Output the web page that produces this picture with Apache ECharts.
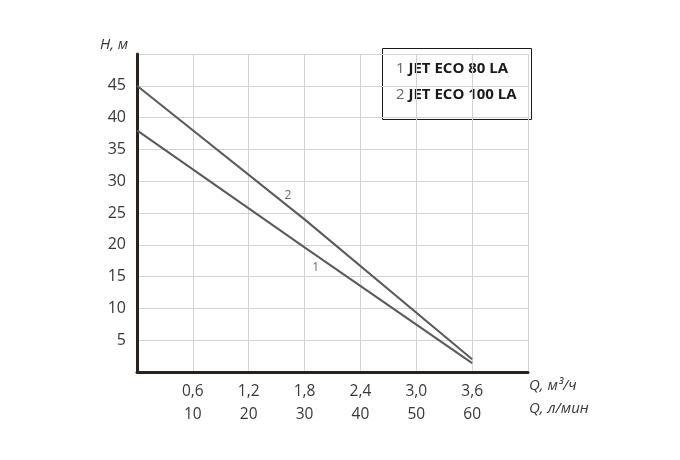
<!DOCTYPE html>
<html><head><meta charset="utf-8">
<script src="https://cdn.jsdelivr.net/npm/echarts@6/dist/echarts.min.js"></script>
<style>html,body{margin:0;padding:0;background:#fff}#c{width:680px;height:460px}</style>
</head><body><div id="c"></div>
<script>
const seriesNames = ['JET ECO 80 LA', 'JET ECO 100 LA'];
const curve1 = [[0, 38], [1.8, 19.6], [3.6, 1.4]];
const curve2 = [[0, 45], [1.8, 24], [3.6, 2.0]];
const curveLabelPos = [[1.92, 16.4], [1.62, 27.7]];
const qM3Ticks = ['0,6', '1,2', '1,8', '2,4', '3,0', '3,6'];
const qLminTicks = ['10', '20', '30', '40', '50', '60'];
const font = '"Open Sans", "Noto Sans", sans-serif';

const chart = echarts.init(document.getElementById('c'));
chart.setOption({
  animation: false,
  grid: { left: 137, right: 152, top: 54, bottom: 88 },
  xAxis: {
    type: 'value', min: 0, max: 4.2, interval: 0.6,
    axisLine: { show: true, onZero: false, lineStyle: { color: '#2a211c', width: 3 } },
    axisTick: { show: false },
    splitLine: { show: true, lineStyle: { color: '#d3d3d3', width: 1 } },
    axisLabel: {
      margin: 8, fontFamily: font, fontSize: 15.5, color: '#383838', lineHeight: 23,
      formatter: function (v) {
        const i = Math.round(v / 0.6) - 1;
        if (i < 0 || i >= qM3Ticks.length) return '';
        return qM3Ticks[i] + '\n' + qLminTicks[i];
      }
    }
  },
  yAxis: {
    type: 'value', min: 0, max: 50, interval: 5,
    axisLine: { show: true, lineStyle: { color: '#2a211c', width: 3 } },
    axisTick: { show: false },
    splitLine: { show: true, lineStyle: { color: '#d3d3d3', width: 1 } },
    axisLabel: {
      margin: 11, fontFamily: font, fontSize: 16, color: '#383838',
      formatter: function (v) { return (v === 0 || v === 50) ? '' : String(v); }
    }
  },
  series: [
    { name: seriesNames[0], type: 'line', data: curve1, symbol: 'none',
      lineStyle: { color: '#5a5a5a', width: 2 } },
    { name: seriesNames[1], type: 'line', data: curve2, symbol: 'none',
      lineStyle: { color: '#5a5a5a', width: 2 } },
    { type: 'scatter', symbolSize: 0, silent: true,
      data: curveLabelPos.map((p, i) => ({ value: p, name: String(i + 1) })),
      label: { show: true, position: 'inside', formatter: '{b}', fontFamily: font, fontSize: 12, color: '#444' } }
  ],
  graphic: [
    { type: 'text', left: 100, top: 37, style: { text: 'H, м', fontFamily: font, fontStyle: 'italic', fontSize: 15, fill: '#383838' } },
    { type: 'text', left: 529, top: 378, style: { text: 'Q, м³/ч', fontFamily: font, fontStyle: 'italic', fontSize: 15, fill: '#383838' } },
    { type: 'text', left: 529, top: 401, style: { text: 'Q, л/мин', fontFamily: font, fontStyle: 'italic', fontSize: 15, fill: '#383838' } },
    { type: 'rect', shape: { x: 382.5, y: 48.5, width: 149, height: 71 }, style: { fill: '#fff', stroke: '#1a1a1a', lineWidth: 1 } },
    { type: 'text', left: 396, top: 61, style: { rich: { n: { fill: '#666', fontFamily: font, fontSize: 15 }, t: { fill: '#1a1a1a', fontFamily: font, fontSize: 15, fontWeight: 'bold' } }, text: '{n|1 }{t|' + seriesNames[0] + '}' } },
    { type: 'text', left: 396, top: 87, style: { rich: { n: { fill: '#666', fontFamily: font, fontSize: 15 }, t: { fill: '#1a1a1a', fontFamily: font, fontSize: 15, fontWeight: 'bold' } }, text: '{n|2 }{t|' + seriesNames[1] + '}' } }
  ]
});
</script></body></html>
